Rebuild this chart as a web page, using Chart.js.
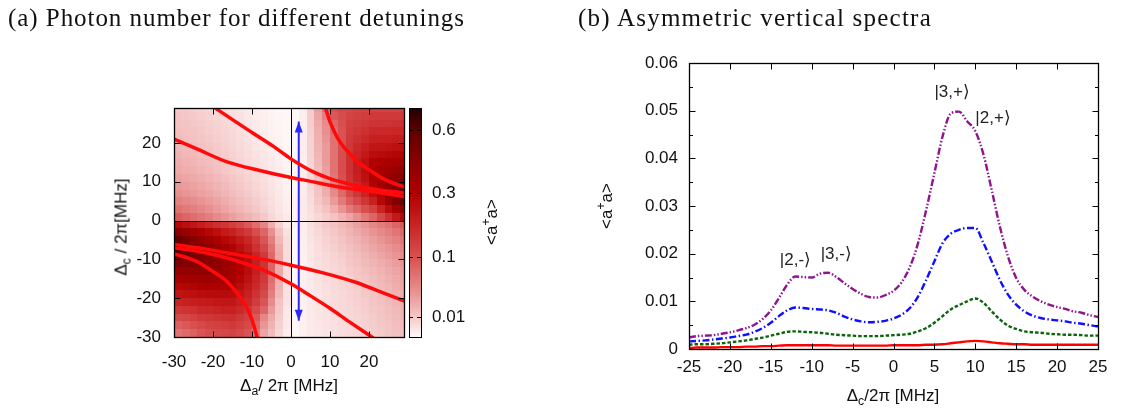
<!DOCTYPE html>
<html><head><meta charset="utf-8">
<script src="https://cdn.jsdelivr.net/npm/chart.js@4.4.1/dist/chart.umd.min.js"></script>
<style>
html,body{margin:0;padding:0;background:#fff;}
#wrap{position:relative;width:1121px;height:408px;overflow:hidden;background:#fff;}
canvas{position:absolute;top:0;}
#ca{left:0;width:560px;height:408px;} #cb{left:560px;width:561px;height:408px;}
.t{position:absolute;white-space:nowrap;font-family:'Liberation Serif','Times New Roman',serif;font-size:25px;line-height:25px;color:#111;}
.lab{position:absolute;white-space:nowrap;font-family:'Liberation Sans',Arial,sans-serif;font-size:17px;line-height:17px;color:#111;transform:translate(-50%,-50%);}
.rot{transform:translate(-50%,-50%) rotate(-90deg);}
sub,sup{font-size:72%;line-height:0;position:relative;vertical-align:baseline;}
sub{top:0.35em;} sup{top:-0.6em;}
</style></head>
<body><div id="wrap">
<canvas id="ca" width="560" height="408"></canvas>
<canvas id="cb" width="561" height="408"></canvas>
<div class="t" id="ta" style="left:8px;top:5px">(a) Photon number for different detunings</div>
<div class="t" id="tb" style="left:578px;top:5px">(b) Asymmetric vertical spectra</div>
<div class="lab rot" style="left:121px;top:227px">Δ<sub>c</sub> / 2π[MHz]</div>
<div class="lab" style="left:289px;top:385px">Δ<sub>a</sub>/ 2π [MHz]</div>
<div class="lab rot" style="left:491px;top:222px">&lt;a<sup>+</sup>a&gt;</div>
<div class="lab rot" style="left:606px;top:206px">&lt;a<sup>+</sup>a&gt;</div>
<div class="lab" style="left:893px;top:395px">Δ<sub>c</sub>/2π [MHz]</div>
</div>
<script>
// ---------------- Panel (a) data ----------------
const heatDeltaA = [-29,-27,-25,-23,-21,-19,-17,-15,-13,-11,-9,-7,-5,-3,-1,1,3,5,7,9,11,13,15,17,19,21,23,25,27,29];
const heatDeltaC = [29,27,25,23,21,19,17,15,13,11,9,7,5,3,1,-1,-3,-5,-7,-9,-11,-13,-15,-17,-19,-21,-23,-25,-27,-29];
// photon number <a+a>, one row per Delta_c (top to bottom), one column per Delta_a (left to right)
const heatPhotons = [
 [0.0105,0.0097,0.0089,0.0076,0.0066,0.0056,0.0048,0.004,0.0033,0.0026,0.002,0.0016,0.0013,0.001,0.0008, 0.0008,0.002,0.0089,0.0284,0.0674,0.101,0.112,0.117,0.123,0.126,0.129,0.129,0.129,0.129,0.129],
 [0.0114,0.0105,0.0097,0.0084,0.0073,0.0062,0.0054,0.0045,0.0037,0.0028,0.0021,0.0018,0.0013,0.0011,0.00085, 0.0008,0.002,0.0089,0.0257,0.0513,0.0905,0.106,0.123,0.129,0.135,0.141,0.141,0.141,0.141,0.141],
 [0.0123,0.0114,0.0105,0.0092,0.0081,0.0068,0.006,0.0049,0.0041,0.0032,0.0024,0.0019,0.0015,0.0012,0.00095, 0.0008,0.002,0.0089,0.0231,0.0407,0.0762,0.101,0.129,0.135,0.144,0.154,0.154,0.157,0.16,0.16],
 [0.0132,0.0123,0.0114,0.01,0.0089,0.0076,0.0066,0.0055,0.0044,0.0035,0.0026,0.002,0.0015,0.0012,0.001, 0.0008,0.002,0.0081,0.0207,0.0374,0.0674,0.098,0.135,0.147,0.16,0.174,0.174,0.177,0.181,0.181],
 [0.0142,0.0132,0.0123,0.0109,0.0097,0.0084,0.0073,0.006,0.0048,0.0037,0.0028,0.0021,0.0016,0.0013,0.001, 0.0008,0.002,0.0073,0.0195,0.0343,0.0632,0.098,0.141,0.16,0.177,0.195,0.199,0.202,0.206,0.21],
 [0.0162,0.015,0.014,0.0123,0.0111,0.0094,0.0081,0.0066,0.0054,0.0043,0.0033,0.0026,0.0019,0.0014,0.0011, 0.0008,0.002,0.0073,0.0184,0.0313,0.0632,0.101,0.147,0.174,0.199,0.225,0.229,0.237,0.245,0.249],
 [0.0184,0.0169,0.0156,0.0138,0.0123,0.0105,0.0089,0.0073,0.006,0.0048,0.0037,0.0029,0.0021,0.0016,0.0012, 0.0008,0.002,0.0073,0.0173,0.0313,0.0632,0.103,0.154,0.188,0.221,0.258,0.266,0.275,0.283,0.292],
 [0.0207,0.0188,0.0175,0.0154,0.0138,0.0116,0.0097,0.0081,0.0066,0.0054,0.0043,0.0033,0.0025,0.0018,0.0012, 0.0008,0.002,0.0066,0.0162,0.0313,0.0632,0.106,0.16,0.202,0.241,0.292,0.306,0.32,0.329,0.339],
 [0.0231,0.0212,0.0195,0.0173,0.0152,0.0127,0.0105,0.0089,0.0073,0.006,0.0048,0.0037,0.0028,0.002,0.0013, 0.001,0.002,0.006,0.0152,0.0284,0.0632,0.106,0.16,0.202,0.249,0.311,0.334,0.358,0.373,0.389],
 [0.0276,0.0252,0.0231,0.0205,0.0179,0.0152,0.0127,0.0105,0.0086,0.007,0.0056,0.0043,0.0031,0.0022,0.0014, 0.001,0.002,0.006,0.0132,0.0257,0.059,0.101,0.154,0.195,0.241,0.311,0.349,0.389,0.42,0.442],
 [0.0322,0.0296,0.0271,0.0239,0.0212,0.0177,0.0148,0.0123,0.01,0.0081,0.0063,0.0048,0.0035,0.0024,0.0015, 0.001,0.002,0.006,0.0123,0.0231,0.0513,0.088,0.135,0.174,0.217,0.292,0.349,0.41,0.476,0.522],
 [0.0374,0.0343,0.0313,0.0279,0.0244,0.0207,0.0173,0.0142,0.0114,0.0094,0.0073,0.0054,0.0037,0.0026,0.0016, 0.0012,0.0021,0.0054,0.0114,0.0207,0.0407,0.0717,0.112,0.147,0.188,0.249,0.329,0.42,0.534,0.622],
 [0.0494,0.0448,0.0407,0.0358,0.0307,0.026,0.0214,0.0175,0.0142,0.0114,0.0089,0.0063,0.0043,0.0029,0.0018, 0.0013,0.0024,0.0048,0.0105,0.0162,0.0313,0.0551,0.0856,0.112,0.147,0.195,0.275,0.368,0.464,0.546],
 [0.0632,0.057,0.0513,0.0441,0.0374,0.0313,0.0257,0.0212,0.0173,0.0138,0.0105,0.0073,0.0048,0.0033,0.002, 0.0013,0.0024,0.0043,0.0081,0.0123,0.0207,0.0358,0.0551,0.0762,0.101,0.129,0.188,0.258,0.339,0.41],
 [0.0856,0.0762,0.0674,0.059,0.0513,0.0424,0.0343,0.0284,0.0231,0.0184,0.0142,0.0097,0.006,0.0037,0.0024, 0.0013,0.0024,0.0037,0.006,0.0089,0.0123,0.0184,0.0257,0.0374,0.0551,0.0762,0.112,0.16,0.217,0.275],
 [0.275,0.249,0.225,0.202,0.181,0.16,0.147,0.129,0.112,0.0905,0.0674,0.0441,0.0207,0.0073,0.0028, 0.0013,0.002,0.0043,0.0066,0.0097,0.0123,0.0162,0.0207,0.0271,0.0343,0.0441,0.0532,0.0632,0.0762,0.0905],
 [0.431,0.389,0.349,0.311,0.275,0.249,0.217,0.195,0.167,0.141,0.106,0.0762,0.0374,0.0123,0.0037, 0.001,0.002,0.0037,0.0057,0.0081,0.0105,0.0136,0.0173,0.0224,0.0284,0.0358,0.0431,0.0513,0.061,0.0717],
 [0.571,0.51,0.453,0.399,0.349,0.311,0.275,0.249,0.217,0.181,0.141,0.0956,0.0513,0.0162,0.0048, 0.001,0.0018,0.0035,0.005,0.007,0.0092,0.0118,0.0148,0.0188,0.0236,0.029,0.0349,0.0417,0.0494,0.059],
 [0.635,0.571,0.51,0.453,0.41,0.368,0.329,0.292,0.249,0.21,0.16,0.117,0.0632,0.0207,0.0048, 0.0008,0.0017,0.0032,0.0046,0.0062,0.0081,0.0102,0.0127,0.0162,0.02,0.0244,0.0293,0.0346,0.0407,0.0476],
 [0.571,0.546,0.51,0.476,0.442,0.399,0.368,0.329,0.283,0.241,0.188,0.141,0.0717,0.0231,0.0048, 0.0008,0.0016,0.003,0.0043,0.0056,0.007,0.0089,0.0111,0.0138,0.0171,0.0207,0.0247,0.0293,0.0343,0.0407],
 [0.476,0.464,0.464,0.453,0.442,0.41,0.378,0.349,0.301,0.258,0.202,0.154,0.0762,0.0231,0.0048, 0.0008,0.0016,0.0028,0.004,0.0051,0.0063,0.0079,0.0099,0.0121,0.0148,0.0179,0.0212,0.0252,0.0296,0.0343],
 [0.389,0.399,0.399,0.41,0.41,0.389,0.368,0.339,0.301,0.258,0.202,0.154,0.0762,0.0231,0.0048, 0.0008,0.0016,0.0028,0.0037,0.0048,0.006,0.0071,0.0089,0.0107,0.013,0.0158,0.0186,0.0219,0.0257,0.0299],
 [0.329,0.339,0.349,0.358,0.368,0.358,0.339,0.32,0.283,0.241,0.188,0.141,0.0674,0.0207,0.0048, 0.0008,0.0016,0.0026,0.0036,0.0045,0.0056,0.0066,0.0081,0.0097,0.0118,0.0142,0.0166,0.0195,0.0229,0.0265],
 [0.275,0.283,0.292,0.311,0.32,0.311,0.301,0.292,0.258,0.217,0.174,0.129,0.059,0.0184,0.0037, 0.0008,0.0016,0.0026,0.0034,0.0043,0.0053,0.0062,0.0073,0.0089,0.0107,0.0128,0.015,0.0175,0.0207,0.0239],
 [0.233,0.241,0.249,0.258,0.266,0.266,0.266,0.258,0.225,0.195,0.154,0.112,0.0513,0.0162,0.0037, 0.0008,0.0016,0.0025,0.0033,0.0041,0.0049,0.0058,0.0067,0.0081,0.0099,0.0118,0.0138,0.016,0.0188,0.0217],
 [0.188,0.195,0.202,0.21,0.217,0.225,0.225,0.225,0.202,0.174,0.135,0.0956,0.0407,0.0123,0.0037, 0.0008,0.0016,0.0024,0.0032,0.0039,0.0047,0.0055,0.0063,0.0075,0.009,0.0109,0.0127,0.0148,0.0173,0.0197],
 [0.147,0.154,0.16,0.174,0.181,0.188,0.195,0.195,0.174,0.147,0.112,0.0762,0.0313,0.0105,0.0028, 0.0008,0.0016,0.0024,0.0031,0.0037,0.0045,0.0053,0.006,0.007,0.0084,0.01,0.0118,0.0136,0.0158,0.0179],
 [0.112,0.117,0.129,0.141,0.147,0.154,0.16,0.167,0.147,0.129,0.0905,0.0441,0.0231,0.0089,0.0028, 0.0008,0.0016,0.0024,0.003,0.0036,0.0043,0.005,0.0057,0.0066,0.0078,0.0092,0.0109,0.0127,0.0146,0.0164],
 [0.0809,0.0905,0.101,0.112,0.123,0.129,0.135,0.141,0.129,0.112,0.0762,0.0343,0.0184,0.0073,0.0028, 0.0008,0.0016,0.0024,0.0029,0.0035,0.0042,0.0048,0.0055,0.0062,0.0073,0.0086,0.01,0.0118,0.0136,0.0152],
 [0.0632,0.0717,0.0809,0.0956,0.106,0.112,0.117,0.123,0.112,0.0956,0.059,0.0257,0.0142,0.006,0.002, 0.0008,0.0016,0.0024,0.0028,0.0034,0.004,0.0046,0.0053,0.006,0.0068,0.0081,0.0094,0.0109,0.0127,0.0142]
];
const cellHalfWidth = 1;

// eigen-energy curves (Delta_a, Delta_c)
const hypUpperDa = [8.7, 10, 12, 14.2, 17, 20.2, 24, 29.5];
const hypUpperDc = [29.6, 25.5, 21.2, 18.2, 15.2, 13.0, 10.6, 8.5];
const hypLowerDa = [-30.5, -24, -20.2, -17, -14.2, -12, -10, -8.6];
const hypLowerDc = [-8.4, -10.6, -13.0, -15.2, -18.2, -21.2, -25.5, -30.3];
const curveADa = [-30.5, -24, -16.6, -8, 0, 5, 9.9, 14, 18.5, 23, 29.5];
const curveADc = [21.2, 18.4, 15.2, 12.9, 11.1, 10.1, 9.1, 8.4, 7.8, 7.1, 6.1];
const curveBDa = [-20.3, -15, -9.7, -4.5, 0, 5.6, 10, 14.2, 18.5, 22.7, 29.5];
const curveBDc = [29.6, 26.0, 22.5, 19.1, 15.9, 12.6, 10.8, 9.6, 8.6, 7.9, 7.1];
const curveCDa = [-30.5, -22, -16.6, -8, 0, 8, 16.6, 23, 29.5];
const curveCDc = [-6.1, -7.3, -8.3, -9.8, -11.5, -13.4, -15.9, -18.4, -20.9];
const curveDDa = [-30.5, -24, -18, -12, -6, 0, 5, 10, 15, 21.2];
const curveDDc = [-7.0, -7.9, -9.2, -11.0, -13.2, -16.3, -19.4, -22.6, -26.1, -30.3];
const cutDa = [2.0, 2.0];
const cutDc = [-25.8, 25.5];

const xTicksA = [-30, -20, -10, 0, 10, 20];
const yTicksA = [-30, -20, -10, 0, 10, 20];
const cbTicks = [0.01, 0.1, 0.3, 0.6];
const cbTickLabels = ['0.01', '0.1', '0.3', '0.6'];
const cbMinValue = 0.0008, cbMaxValue = 0.731;

// ---------------- Panel (b) data ----------------
const detuningC = [-25,-24,-23,-22,-21,-20,-19,-18,-17,-16,-15,-14,-13,-12,-11,-10,-9,-8,-7,-6,-5,-4,-3,-2,-1,0,1,2,3,4,5,6,7,8,9,10,11,12,13,14,15,16,17,18,19,20,21,22,23,24,25];
const photonsPurple = [0.0024,0.0027,0.0028,0.0029,0.0032,0.0035,0.0039,0.0044,0.0051,0.0063,0.0081,0.0107,0.0135,0.0152,0.0151,0.0150,0.0158,0.0160,0.0151,0.0138,0.0126,0.0116,0.0109,0.0108,0.0113,0.0122,0.0140,0.0172,0.0222,0.0292,0.0369,0.0446,0.0494,0.0498,0.0478,0.0457,0.0408,0.0334,0.0257,0.0194,0.0149,0.0124,0.0110,0.0100,0.0093,0.0088,0.0084,0.0079,0.0076,0.0071,0.0067];
const photonsBlue = [0.0016,0.0017,0.0018,0.0020,0.0022,0.0024,0.0027,0.0030,0.0036,0.0044,0.0055,0.0069,0.0081,0.0087,0.0086,0.0084,0.0083,0.0081,0.0076,0.0068,0.0062,0.0058,0.0056,0.0057,0.0059,0.0064,0.0072,0.0086,0.0110,0.0145,0.0184,0.0222,0.0242,0.0250,0.0254,0.0254,0.0222,0.0184,0.0145,0.0114,0.0093,0.0079,0.0070,0.0065,0.0062,0.0060,0.0058,0.0055,0.0053,0.0050,0.0047];
const photonsGreen = [0.0009,0.0010,0.0010,0.0011,0.0012,0.0014,0.0016,0.0018,0.0021,0.0024,0.0028,0.0032,0.0036,0.0037,0.0036,0.0035,0.0034,0.0032,0.0030,0.0029,0.0028,0.0027,0.0027,0.0027,0.0028,0.0029,0.0030,0.0032,0.0037,0.0044,0.0055,0.0069,0.0083,0.0092,0.0100,0.0106,0.0097,0.0079,0.0062,0.0049,0.0042,0.0037,0.0035,0.0034,0.0032,0.0031,0.0030,0.0030,0.0029,0.0028,0.0028];
const photonsRed = [0.0002,0.0003,0.0003,0.0003,0.0004,0.0004,0.0004,0.0005,0.0005,0.0006,0.0006,0.0007,0.0008,0.0008,0.0008,0.0008,0.0008,0.0008,0.0007,0.0007,0.0007,0.0007,0.0007,0.0007,0.0007,0.0008,0.0008,0.0008,0.0008,0.0009,0.0009,0.0010,0.0012,0.0014,0.0016,0.0017,0.0016,0.0014,0.0012,0.0011,0.0010,0.0010,0.0009,0.0009,0.0009,0.0009,0.0009,0.0009,0.0009,0.0009,0.0009];
const xTicksB = [-25,-20,-15,-10,-5,0,5,10,15,20,25];
const yTicksB = [0,0.01,0.02,0.03,0.04,0.05,0.06];
const yTickLabelsB = ['0','0.01','0.02','0.03','0.04','0.05','0.06'];
const yMinorTicksB = [0.005,0.015,0.025,0.035,0.045,0.055];
const levelLabels = ['|2,-⟩', '|3,-⟩', '|3,+⟩', '|2,+⟩'];
const levelX = [-13.9, -8.9, 5.0, 10.0];
const levelY = [0.0187, 0.0198, 0.0538, 0.0485];

// ---------------- helpers ----------------
const FONT = "'Liberation Sans', Arial, sans-serif";
Chart.defaults.font.family = FONT;
Chart.defaults.font.size = 17;
Chart.defaults.color = '#111';

function zip(xs, ys) { return xs.map((x, i) => ({x, y: ys[i]})); }
const stops = [[0,[255,248,248]],[0.087,[245,200,200]],[0.2,[232,144,144]],[0.348,[216,80,80]],[0.5,[200,32,32]],[0.63,[176,0,0]],[0.76,[140,0,0]],[0.9,[96,0,0]],[1,[32,0,0]]];
function colorAtFraction(f) {
  f = Math.max(0, Math.min(1, f));
  for (let i = 1; i < stops.length; i++) {
    if (f <= stops[i][0]) {
      const [f0, c0] = stops[i-1], [f1, c1] = stops[i];
      const t = (f - f0) / (f1 - f0);
      return 'rgb(' + c0.map((c, k) => Math.round(c + (c1[k] - c) * t)).join(',') + ')';
    }
  }
  return 'rgb(32,0,0)';
}
function zeroPad(s) { s.paddingLeft = 0; s.paddingRight = 0; s.paddingTop = 0; s.paddingBottom = 0; }

function drawFrame(ctx, a, xs, ys, xT, yT, yMinor, len, minorLen) {
  const L = Math.round(a.left) + 0.5, R = Math.round(a.right) + 0.5, T = Math.round(a.top) + 0.5, B = Math.round(a.bottom) + 0.5;
  ctx.save();
  ctx.strokeStyle = '#000'; ctx.lineWidth = 1;
  ctx.beginPath();
  xT.forEach(v => { const p = Math.round(xs.getPixelForValue(v)) + 0.5; ctx.moveTo(p, B); ctx.lineTo(p, B - len); ctx.moveTo(p, T); ctx.lineTo(p, T + len); });
  yT.forEach(v => { const p = Math.round(ys.getPixelForValue(v)) + 0.5; ctx.moveTo(L, p); ctx.lineTo(L + len, p); ctx.moveTo(R, p); ctx.lineTo(R - len, p); });
  (yMinor || []).forEach(v => { const p = Math.round(ys.getPixelForValue(v)) + 0.5; ctx.moveTo(L, p); ctx.lineTo(L + minorLen, p); ctx.moveTo(R, p); ctx.lineTo(R - minorLen, p); });
  ctx.stroke();
  ctx.lineWidth = 1.3;
  ctx.strokeRect(L, T, R - L, B - T);
  ctx.restore();
}

// ---------------- Chart (a) ----------------
const heatPlugin = {
  id: 'heat',
  beforeDatasetsDraw(chart) {
    const {ctx, chartArea: a, scales} = chart;
    const xs = scales.x, ys = scales.y, cb = scales.cb;
    const colorFor = v => colorAtFraction((cb.bottom - cb.getPixelForValue(Math.sqrt(v))) / (cb.bottom - cb.top));
    ctx.save();
    ctx.beginPath(); ctx.rect(a.left, a.top, a.right - a.left, a.bottom - a.top); ctx.clip();
    heatPhotons.forEach((row, i) => {
      const yc = heatDeltaC[i];
      const py0 = Math.round(ys.getPixelForValue(yc + cellHalfWidth)), py1 = Math.round(ys.getPixelForValue(yc - cellHalfWidth));
      row.forEach((v, j) => {
        const xc = heatDeltaA[j];
        const px0 = Math.round(xs.getPixelForValue(xc - cellHalfWidth)), px1 = Math.round(xs.getPixelForValue(xc + cellHalfWidth));
        ctx.fillStyle = colorFor(v);
        ctx.fillRect(px0, py0, px1 - px0, py1 - py0);
      });
    });
    ctx.strokeStyle = '#000'; ctx.lineWidth = 1;
    const x0 = Math.round(xs.getPixelForValue(0)) + 0.5, y0 = Math.round(ys.getPixelForValue(0)) + 0.5;
    ctx.beginPath(); ctx.moveTo(x0, a.top); ctx.lineTo(x0, a.bottom); ctx.moveTo(a.left, y0); ctx.lineTo(a.right, y0); ctx.stroke();
    ctx.restore();
  },
  afterDatasetsDraw(chart) {
    const {ctx, chartArea: a, scales} = chart;
    const xs = scales.x, ys = scales.y, cb = scales.cb;
    const meta = chart.getDatasetMeta(6);
    const p0 = meta.data[0], p1 = meta.data[1];
    ctx.save();
    ctx.fillStyle = '#2a2aff';
    const head = (p, dir) => { ctx.beginPath(); ctx.moveTo(p.x, p.y); ctx.lineTo(p.x - 4, p.y - dir * 11); ctx.lineTo(p.x + 4, p.y - dir * 11); ctx.closePath(); ctx.fill(); };
    head(p0, 1); head(p1, -1);
    ctx.restore();
    drawFrame(ctx, a, xs, ys, xTicksA, yTicksA, null, 6, 3);
    const bx = Math.round(a.right) + 5, bw = 12;
    ctx.save();
    for (let py = Math.round(cb.top); py < Math.round(cb.bottom); py++) {
      const s = cb.getValueForPixel(py + 0.5);
      ctx.fillStyle = colorAtFraction((s - cb.min) / (cb.max - cb.min));
      ctx.fillRect(bx, py, bw, 1);
    }
    ctx.strokeStyle = '#000'; ctx.lineWidth = 1;
    ctx.strokeRect(bx + 0.5, Math.round(cb.top) + 0.5, bw, Math.round(cb.bottom) - Math.round(cb.top));
    ctx.beginPath();
    cbTicks.forEach(v => { const p = Math.round(cb.getPixelForValue(Math.sqrt(v))) + 0.5; ctx.moveTo(bx, p); ctx.lineTo(bx + 4, p); ctx.moveTo(bx + bw, p); ctx.lineTo(bx + bw - 4, p); });
    ctx.stroke();
    ctx.restore();
  }
};

const redCurve = (xs, ys) => ({data: zip(xs, ys), showLine: true, borderColor: '#ff0a0a', borderWidth: 3.5, pointRadius: 0, cubicInterpolationMode: 'monotone', borderCapStyle: 'round'});
new Chart(document.getElementById('ca'), {
  type: 'scatter',
  data: {datasets: [
    redCurve(hypUpperDa, hypUpperDc), redCurve(hypLowerDa, hypLowerDc),
    redCurve(curveADa, curveADc), redCurve(curveBDa, curveBDc),
    redCurve(curveCDa, curveCDc), redCurve(curveDDa, curveDDc),
    {data: zip(cutDa, cutDc), showLine: true, borderColor: '#2a2aff', borderWidth: 2, pointRadius: 0}
  ]},
  options: {
    responsive: false, animation: false, devicePixelRatio: 1,
    layout: {padding: {left: 0, right: 0, top: 108, bottom: 0}},
    plugins: {legend: {display: false}, tooltip: {enabled: false}},
    scales: {
      x: {type: 'linear', min: -30, max: 29,
          afterBuildTicks: s => { s.ticks = xTicksA.map(v => ({value: v})); },
          afterFit: s => { s.height = 71; zeroPad(s); },
          grid: {display: false, drawTicks: false}, border: {display: false},
          ticks: {padding: 15, autoSkip: false, maxRotation: 0}},
      y: {type: 'linear', min: -30, max: 29,
          afterBuildTicks: s => { s.ticks = yTicksA.map(v => ({value: v})); },
          afterFit: s => { s.width = 174; zeroPad(s); },
          grid: {display: false, drawTicks: false}, border: {display: false},
          ticks: {padding: 13, autoSkip: false}},
      cb: {type: 'linear', position: 'right', min: Math.sqrt(cbMinValue), max: Math.sqrt(cbMaxValue),
          afterBuildTicks: s => { s.ticks = cbTicks.map(v => ({value: Math.sqrt(v)})); },
          afterFit: s => { s.width = 156; zeroPad(s); },
          grid: {display: false, drawTicks: false}, border: {display: false},
          ticks: {padding: 28, autoSkip: false, callback: (v, i) => cbTickLabels[i]}}
    }
  },
  plugins: [heatPlugin]
});

// ---------------- Chart (b) ----------------
const framePluginB = {
  id: 'frameB',
  afterDatasetsDraw(chart) {
    const {ctx, chartArea: a, scales: {x, y}} = chart;
    drawFrame(ctx, a, x, y, xTicksB, yTicksB, yMinorTicksB, 6, 3.5);
    ctx.save();
    ctx.fillStyle = '#222'; ctx.font = '17px ' + FONT; ctx.textAlign = 'left'; ctx.textBaseline = 'middle';
    levelLabels.forEach((t, i) => ctx.fillText(t, x.getPixelForValue(levelX[i]), y.getPixelForValue(levelY[i])));
    ctx.restore();
  }
};
const spec = (ys, color, dash) => ({data: zip(detuningC, ys), showLine: true, borderColor: color, borderWidth: 2.4, borderDash: dash, pointRadius: 0, cubicInterpolationMode: 'monotone'});
new Chart(document.getElementById('cb'), {
  type: 'scatter',
  data: {datasets: [
    spec(photonsPurple, '#8e1490', [7, 2, 1.5, 2, 1.5, 2]),
    spec(photonsBlue, '#1010ff', [7, 2.5, 1.5, 2.5]),
    spec(photonsGreen, '#0a640a', [3.5, 2]),
    spec(photonsRed, '#ff0000', [])
  ]},
  options: {
    responsive: false, animation: false, devicePixelRatio: 1,
    layout: {padding: {left: 0, right: 23, top: 63, bottom: 0}},
    plugins: {legend: {display: false}, tooltip: {enabled: false}},
    scales: {
      x: {type: 'linear', min: -25, max: 25,
          afterBuildTicks: s => { s.ticks = xTicksB.map(v => ({value: v})); },
          afterFit: s => { s.height = 59; zeroPad(s); },
          grid: {display: false, drawTicks: false}, border: {display: false},
          ticks: {padding: 8, autoSkip: false, maxRotation: 0}},
      y: {type: 'linear', min: 0, max: 0.06,
          afterBuildTicks: s => { s.ticks = yTicksB.map(v => ({value: v})); },
          afterFit: s => { s.width = 129; zeroPad(s); },
          grid: {display: false, drawTicks: false}, border: {display: false},
          ticks: {padding: 11, autoSkip: false, callback: (v, i) => yTickLabelsB[i]}}
    }
  },
  plugins: [framePluginB]
});

function fitWidth(id, w) {
  const el = document.getElementById(id);
  el.style.letterSpacing = '0px';
  const nat = el.getBoundingClientRect().width;
  el.style.letterSpacing = ((w - nat) / el.textContent.length) + 'px';
}
fitWidth('ta', 457); fitWidth('tb', 354);
</script>
</body></html>
